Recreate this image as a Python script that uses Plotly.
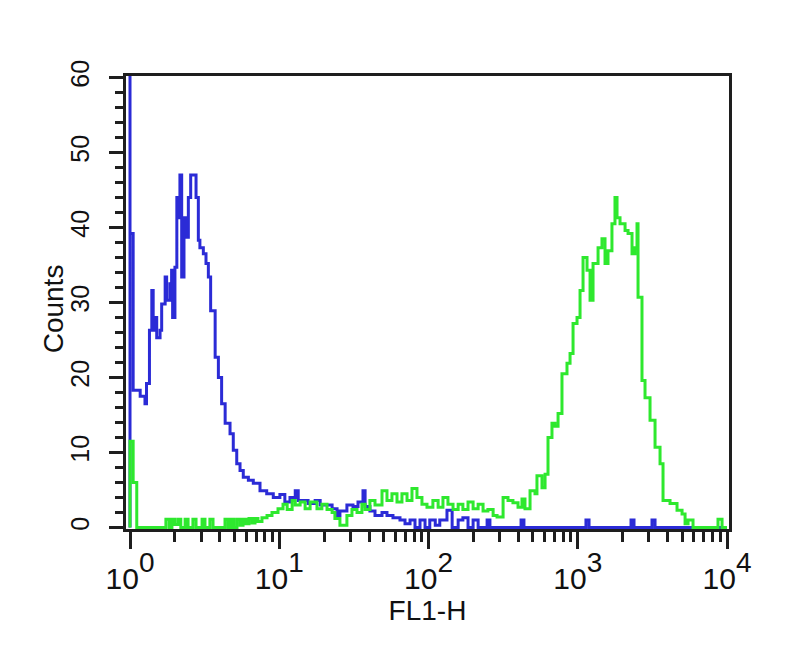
import plotly.graph_objects as go

# FL1-H fluorescence values and counts
blue_fl1 = [1.0, 1.0, 1.0, 1.05, 1.17, 1.26, 1.29, 1.35, 1.40, 1.43, 1.47, 1.51, 1.59, 1.63,
            1.72, 1.76, 1.85, 1.90, 1.93, 2.00, 2.06, 2.11, 2.16, 2.22, 2.30, 2.40, 2.46,
            2.55, 2.69, 2.77, 2.87, 2.94, 3.10, 3.23, 3.35, 3.47, 3.72, 3.91, 4.11, 4.34,
            4.68, 4.92, 5.19, 5.46, 5.74, 6.21, 6.70, 7.43, 8.24, 9.12, 10.1, 10.9, 11.8,
            12.8, 13.4, 14.4, 15.6, 17.4, 18.8, 20.3, 22.6, 24.4, 25.5, 28.4, 31.2, 33.7,
            36.4, 37.6, 40.5, 43.8, 48.8, 52.7, 57.8, 64.4, 69.6, 75.2, 81.2, 87.7, 94.8,
            102, 111, 119, 133, 144, 158, 170, 184, 199, 215, 247, 258, 417, 436, 1135,
            1190, 2275, 2382, 3144, 3295, 10000]
blue_counts = [0, 70, 39.2, 18.3, 17.5, 16.5, 19.2, 26.3, 31.6, 26.3, 28, 25.3, 26.3, 29.8,
               33.4, 30.3, 32.5, 34.3, 28, 34.7, 44, 41.3, 47, 33.4, 41.3, 38.7, 44,
               47, 47, 44, 38.3, 37.3, 36.5, 35.2, 33.4, 28.9, 22.7, 20, 16.5, 13.9,
               12.5, 10.3, 8.5, 7.6, 6.7, 6.3, 5.9, 4.9, 4.5, 4.0, 4.4, 3.4, 4.0,
               4.9, 3.6, 3.6, 3.2, 3.6, 3.0, 3.0, 2.5, 1.6, 2.2, 3.0, 2.8, 3.4,
               4.9, 2.8, 2.2, 1.6, 2.0, 1.6, 1.3, 1.0, 0.5, 1.0, 0, 1.0, 0,
               1.0, 0.3, 1.0, 2.3, 0, 1.0, 1.3, 0, 1.0, 0, 1.0, 0, 1.0, 0, 1.0,
               0, 1.0, 0, 1.0, 0, 0]

green_fl1 = [1.0, 1.0, 1.05, 1.08, 1.11, 1.66, 1.74, 1.83, 1.91, 2.0, 2.10, 2.19, 2.34, 2.45,
             2.64, 2.77, 3.04, 3.18, 3.43, 3.60, 4.13, 4.33, 4.54, 4.75, 4.97, 5.21, 5.46,
             5.72, 5.99, 6.27, 6.57, 6.88, 7.20, 7.66, 8.28, 8.94, 9.81, 10.6, 11.3, 12.2,
             12.8, 13.8, 14.9, 16.1, 17.9, 19.3, 20.9, 22.6, 23.6, 25.5, 28.4, 30.7, 33.2,
             35.8, 37.6, 40.5, 43.8, 48.8, 52.7, 56.9, 61.5, 66.4, 71.8, 77.5, 83.7, 90.4,
             97.7, 107, 116, 125, 135, 146, 158, 170, 184, 199, 215, 232, 250, 271, 288,
             316, 341, 368, 398, 423, 443, 479, 517, 533, 576, 604, 632, 672, 704, 738,
             784, 847, 888, 930, 989, 1036, 1085, 1154, 1209, 1266, 1368, 1453, 1523,
             1595, 1695, 1776, 1833, 1920, 2075, 2173, 2310, 2419, 2495, 2535, 2694, 2823,
             3050, 3295, 3559, 3727, 4152, 4626, 4999, 5237, 5483, 5921, 8054, 8703, 9265,
             10000]
green_counts = [0, 11.5, 6, 6, 0, 0, 1.1, 0, 1.1, 0.4, 1.1, 0, 1.1, 0,
                1.1, 0, 1.1, 0, 1.1, 0, 0, 1.1, 0, 1.1, 0, 1.1, 0.3,
                1.1, 0.5, 1.2, 0.6, 1.2, 0.8, 1.3, 1.6, 2.0, 2.5, 3.1, 2.4, 3.6,
                3.0, 3.4, 2.5, 3.4, 2.5, 3.1, 2.4, 2.0, 1.2, 0.3, 1.6, 2.4, 2.0,
                3.1, 2.4, 3.6, 3.0, 4.9, 3.6, 4.5, 3.4, 4.5, 3.6, 5.2, 4.0, 3.1,
                2.7, 3.6, 2.7, 4.0, 3.1, 2.4, 3.1, 2.4, 3.4, 2.5, 3.1, 2.2, 2.4, 1.6, 1.4,
                4.0, 3.6, 3.3, 2.7, 3.8, 2.5, 4.9, 4.5, 6.9, 5.3, 7.1, 12, 13.9, 13.5, 15.2,
                20.5, 21.9, 23.2, 27.2, 28, 31.6, 36, 34.3, 30.3, 35.2, 37.3, 38.5, 35.2,
                36.9, 40.5, 44, 41.3, 40.5, 39.6, 39.2, 36.5, 37.3, 40.5, 30.7, 19.6, 17.3,
                14.3, 10.7, 8.5, 3.6, 3.2, 2.3, 1.8, 0.5, 1.0, 0, 0, 1.1, 0,
                0]

x_tickvals = [1, 10, 100, 1000, 10000]
x_ticktext = ['<span style="font-size:30px">10</span><sup>%d</sup>' % k for k in range(5)]
y_tickvals = [0, 10, 20, 30, 40, 50, 60]
x_minor = [m * 10 ** k for k in range(4) for m in range(2, 10)]
y_title = "Counts"
x_title = "FL1-H"

AX = "#1e1e1e"
FONT = "Liberation Sans, Arial, sans-serif"

fig = go.Figure()
fig.add_trace(go.Scatter(x=blue_fl1, y=blue_counts, mode="lines", line_shape="hv",
                         line=dict(color="#2b2bd6", width=3), showlegend=False))
fig.add_trace(go.Scatter(x=green_fl1, y=green_counts, mode="lines", line_shape="hv",
                         line=dict(color="#2ee82e", width=3), showlegend=False))

# page body has an 8px default margin, so the figure is sized/positioned to compensate
fig.update_layout(
    width=792, height=648,
    margin=dict(l=118, r=71, t=68, b=127),
    paper_bgcolor="white", plot_bgcolor="white",
    font=dict(family=FONT, color="#111"),
    xaxis=dict(
        type="log", range=[-0.0268, 4.0134],
        tickvals=x_tickvals, ticktext=x_ticktext,
        ticks="outside", ticklen=17, tickwidth=3, tickcolor=AX,
        showline=True, linecolor=AX, linewidth=3, mirror=True,
        showgrid=False, zeroline=False,
        ticklabelstandoff=-8,
        tickfont=dict(size=40, family=FONT, color="#111"),
        minor=dict(tickvals=x_minor, ticks="outside", ticklen=10, tickwidth=3, tickcolor=AX, showgrid=False),
        title=dict(text=x_title, font=dict(size=28, family=FONT, color="#111"), standoff=2),
    ),
    yaxis=dict(
        range=[-0.2, 60.2],
        tickvals=y_tickvals,
        ticks="outside", ticklen=14, tickwidth=3, tickcolor=AX,
        showline=True, linecolor=AX, linewidth=3, mirror=True,
        showgrid=False, zeroline=False, tickangle=-90,
        ticklabelstandoff=10,
        tickfont=dict(size=25, family=FONT, color="#111"),
        minor=dict(dtick=2, ticks="outside", ticklen=8, tickwidth=3, tickcolor=AX, showgrid=False),
    ),
    annotations=[dict(text=y_title, textangle=-90, xref="paper", yref="paper",
                      x=-0.121, y=0.485, xanchor="center", yanchor="middle", showarrow=False,
                      font=dict(size=28, family=FONT, color="#111"))],
)

fig.write_html("out.html")
